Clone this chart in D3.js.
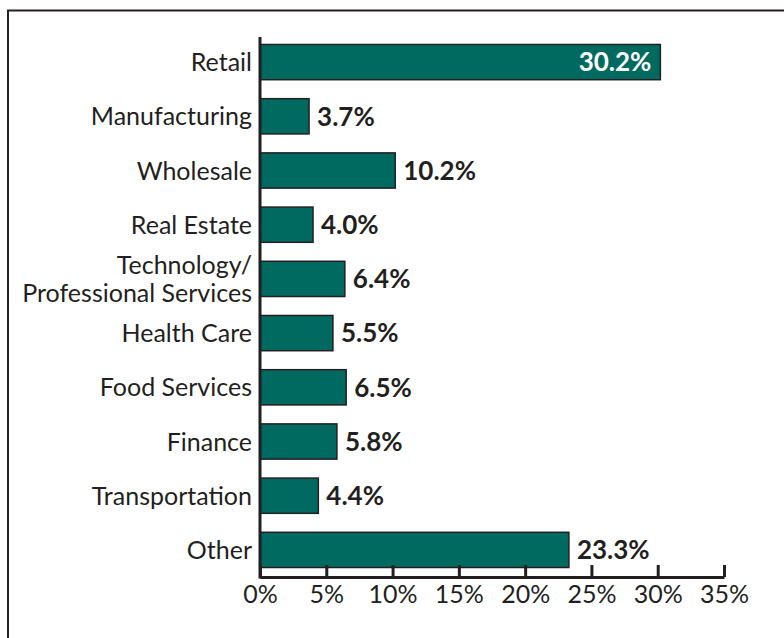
<!DOCTYPE html>
<html>
<head>
<meta charset="utf-8">
<script src="https://cdn.jsdelivr.net/npm/d3@7"></script>
<style>
  html, body { margin: 0; padding: 0; background: #fff; }
  svg { display: block; }
  text { font-family: Lato, "Open Sans", sans-serif; fill: #231f20; }
</style>
</head>
<body>
<svg id="chart" width="784" height="638"></svg>
<script>
// Share of businesses by industry
const categories = [
  "Retail", "Manufacturing", "Wholesale", "Real Estate",
  "Technology/\nProfessional Services", "Health Care", "Food Services",
  "Finance", "Transportation", "Other"
];
const shares = [30.2, 3.7, 10.2, 4.0, 6.4, 5.5, 6.5, 5.8, 4.4, 23.3];
const tickValues = [0, 5, 10, 15, 20, 25, 30, 35];

const data = categories.map((c, i) => ({ category: c, value: shares[i] }));

const svg = d3.select("#chart");
const W = 784, H = 638;

// outer frame (only the top and left edges fall inside the view)
svg.append("rect")
  .attr("x", 8).attr("y", 10.5)
  .attr("width", W + 20).attr("height", H + 20)
  .attr("fill", "none").attr("stroke", "#231f20").attr("stroke-width", 2);

const x = d3.scaleLinear().domain([0, 35]).range([260, 724]);
const y = d3.scaleBand().domain(categories).range([35, 577]).paddingInner(0.35).paddingOuter(0.175);

const teal = "#006a60";

// bars
svg.append("g").selectAll("rect")
  .data(data).join("rect")
  .attr("x", x(0))
  .attr("y", d => y(d.category))
  .attr("width", d => x(d.value) - x(0))
  .attr("height", y.bandwidth())
  .attr("fill", teal)
  .attr("stroke", "#231f20")
  .attr("stroke-width", 1.5);

// value labels
svg.append("g").selectAll("text")
  .data(data).join("text")
  .attr("x", d => d.value > 25 ? x(d.value) - 9 : x(d.value) + 8)
  .attr("y", d => y(d.category) + y.bandwidth() / 2)
  .attr("dy", "0.36em")
  .attr("text-anchor", d => d.value > 25 ? "end" : "start")
  .style("font-weight", 700)
  .style("font-size", "26px")
  .style("fill", d => d.value > 25 ? "#ffffff" : "#231f20")
  .text(d => d.value.toFixed(1) + "%");

// category labels
const catG = svg.append("g");
data.forEach(d => {
  const lines = d.category.split("\n");
  const cy = y(d.category) + y.bandwidth() / 2;
  const lh = 28;
  const t = catG.append("text")
    .attr("text-anchor", "end")
    .style("font-size", "25px");
  lines.forEach((ln, i) => {
    t.append("tspan")
      .attr("x", 252)
      .attr("y", cy + (i - (lines.length - 1) / 2) * lh)
      .attr("dy", "0.36em")
      .text(ln);
  });
});

// x axis with ticks pointing up into the plot
const xAxis = d3.axisBottom(x)
  .tickValues(tickValues)
  .tickFormat(d => d + "%")
  .tickSizeInner(-12)
  .tickSizeOuter(0)
  .tickPadding(8);

const gx = svg.append("g")
  .attr("transform", "translate(0,577)")
  .call(xAxis);
gx.select(".domain").attr("stroke", "#231f20").attr("stroke-width", 3);
gx.selectAll(".tick line").attr("stroke", "#231f20").attr("stroke-width", 3);
gx.selectAll(".tick text")
  .style("font-size", "25px")
  .style("font-family", "Lato, 'Open Sans', sans-serif")
  .attr("fill", "#231f20");

// y axis line
svg.append("line")
  .attr("x1", x(0)).attr("x2", x(0))
  .attr("y1", 37).attr("y2", 578.5)
  .attr("stroke", "#231f20").attr("stroke-width", 3);
</script>
</body>
</html>
